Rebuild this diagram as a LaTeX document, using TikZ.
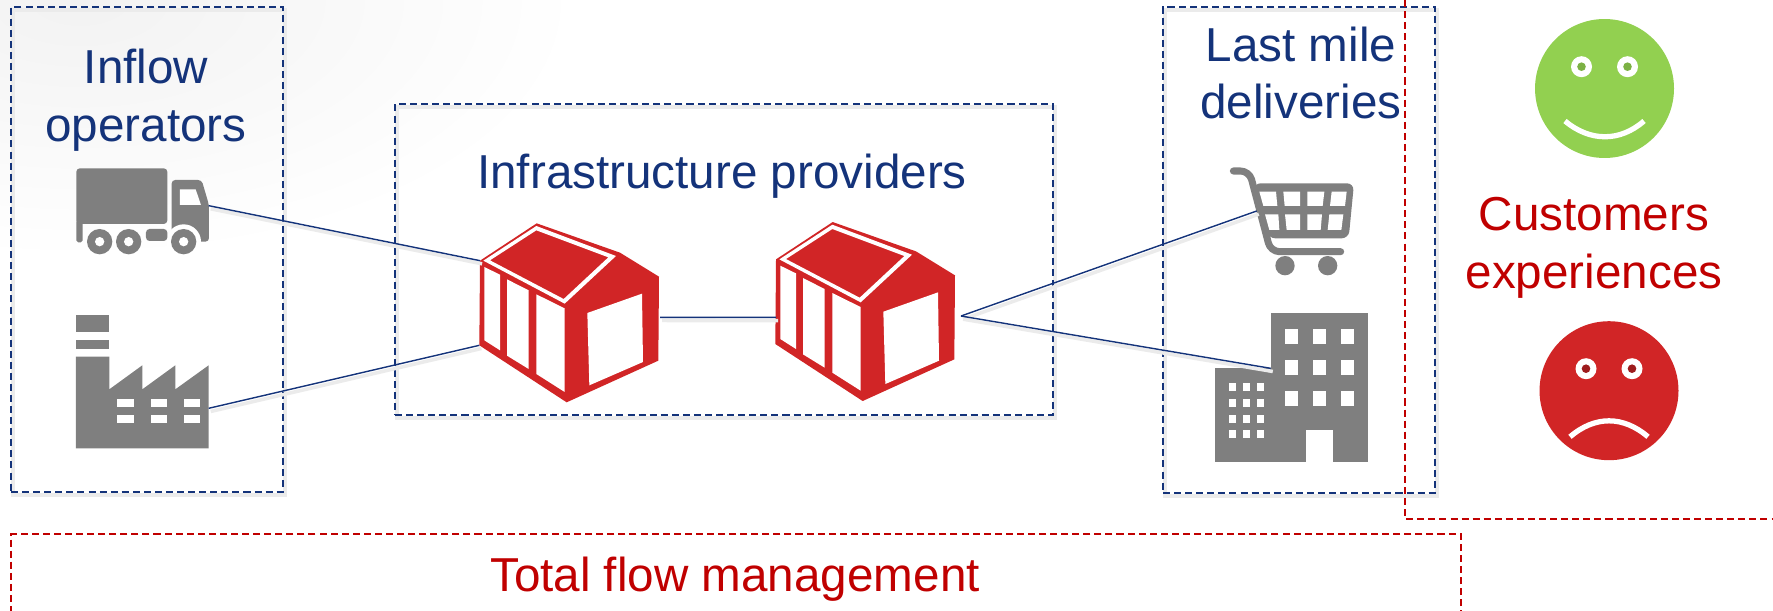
\documentclass[tikz,border=0pt]{standalone}
\usepackage{fontspec}
\setmainfont{Liberation Sans}
\definecolor{boxblue}{HTML}{14337A}
\definecolor{labelred}{HTML}{C00000}
\definecolor{iconred}{HTML}{D12526}
\definecolor{icongray}{HTML}{7F7F7F}
\definecolor{smilegreen}{HTML}{92D050}
\tikzset{
  bluebox/.style={draw=boxblue, line width=1.1pt, dash pattern=on 4pt off 2.3pt},
  redbox/.style={draw=labelred, line width=1.1pt, dash pattern=on 4pt off 2.3pt},
  softshadow/.style={draw=black!8, line width=2.6pt, transform canvas={xshift=1.2pt,yshift=-1.8pt}},
  link/.style={draw=boxblue, line width=0.8pt},
  bluelabel/.style={text=boxblue, align=center, font=\fontsize{27.1}{32.8}\selectfont},
  redlabel/.style={text=labelred, align=center, font=\fontsize{27.1}{32.8}\selectfont},
  depot/.pic={
    \begin{scope}[x=0.00667cm,y=-0.00667cm]
    \fill[iconred] (60,182) -- (230,70) -- (480,158) -- (597,230) -- (595,482) -- (320,607) -- (58,436) -- cycle;
    \fill[white, even odd rule] (70,182) -- (229,78) -- (468,168) -- (314,311) -- cycle (90,181) -- (229,91) -- (445,172) -- (311,297) -- cycle;
    \fill[white] (73,201) -- (120,224) -- (120,451) -- (73,421) -- cycle;
    \fill[white] (141,238) -- (206,271) -- (206,507) -- (141,467) -- cycle;
    \fill[white] (229,283) -- (314,325) -- (314,576) -- (229,522) -- cycle;
    \fill[white] (382,339) -- (546,281) -- (549,486) -- (388,556) -- cycle;
    \coordinate (-west) at (60,182);
    \coordinate (-south) at (58,436);
    \coordinate (-side) at (60,356);
    \coordinate (-east) at (600,352);
    \coordinate (-tip) at (615,352);
    \end{scope}
  },
}
\begin{document}
\begin{tikzpicture}[x=0.02cm,y=-0.02cm]
  \useasboundingbox (0,0) rectangle (1773,611);
  \clip (0,0) rectangle (1773,611);

  % top left tint
  \shade[inner color=black!5, outer color=white] (80,0) ellipse (500 and 260);

  % box shadows
  \draw[softshadow] (11,7) rectangle (283,492);
  \draw[softshadow] (395,104) rectangle (1053,415);
  \draw[softshadow] (1163,7) rectangle (1435,493);

  % boxes
  \node[bluebox, inner sep=0, minimum width=5.44cm, minimum height=9.7cm] (inflowbox) at (147,249.5) {};
  \node[bluebox, inner sep=0, minimum width=13.16cm, minimum height=6.22cm] (infrabox) at (724,259.5) {};
  \node[bluebox, inner sep=0, minimum width=5.44cm, minimum height=9.72cm] (lastmilebox) at (1299,250) {};
  \node[redbox, inner sep=0, minimum width=29cm, minimum height=3cm] (totalbox) at (736,609) {};
  \draw[redbox] (1405,0) -- (1405,519) -- (1773,519);

  % labels
  \node[bluelabel] (inflowlabel) at (146,100) {Inflow\\operators};
  \node[bluelabel] (infralabel) at (722,176.5) {Infrastructure providers};
  \node[bluelabel] (lastlabel) at (1301,73) {Last mile\\deliveries};
  \node[redlabel] (customerlabel) at (1594,248) {Customers\\experiences};
  \node[redlabel] (totallabel) at (735,579.5) {Total flow management};

  % truck
  \begin{scope}[x=0.00667cm,y=-0.00667cm]
    \fill[icongray, rounded corners=2pt] (229,505) rectangle (502,672);
    \fill[icongray, rounded corners=1pt] (229,660) rectangle (248,727);
    \fill[icongray, rounded corners=2pt] (515,725) -- (515,540) -- (605,540) -- (627,615) -- (627,725) -- cycle;
    \fill[white] (540,568) -- (587,568) -- (603,615) -- (540,615) -- cycle;
    \fill[white] (551,725) circle (52);
    \fill[icongray, rounded corners=2pt] (438,687) rectangle (502,723);
    \foreach \wheelx in {299,386,551} {
      \fill[icongray] (\wheelx,725) circle (38);
      \fill[white] (\wheelx,725) circle (14);
    }
    \coordinate (truck) at (626,617);

    % factory
    \fill[icongray] (228,945) rectangle (328,997);
    \fill[icongray] (228,1021) rectangle (328,1047);
    \fill[icongray] (228,1070) -- (328,1070) -- (328,1168) -- (427,1096) -- (427,1168) -- (526,1096) -- (526,1168) -- (626,1096) -- (626,1345) -- (228,1345) -- cycle;
    \foreach \winx in {352,452,551} {
      \fill[white] (\winx,1196) rectangle +(49,25);
      \fill[white] (\winx,1245) rectangle +(49,25);
    }
    \coordinate (factory) at (626,1225);
  \end{scope}

  % depots
  \pic (depotleft) at (460,200) {depot};
  \pic (depotright) at (756,198.7) {depot};

  % cart and building
  \begin{scope}[shift={(1150,150)},x=0.00667cm,y=-0.00667cm]
    \draw[icongray, line width=4pt, line cap=round, line join=round, rounded corners=5pt] (250,63) -- (298,63) -- (362,305) -- (572,305);
    \fill[icongray, rounded corners=4pt] (310,100) -- (612,100) -- (596,265) -- (355,265) -- cycle;
    \fill[white] (328,125) -- (378,125) -- (382,168) -- (340,168) -- cycle;
    \fill[white] (400,125) -- (450,125) -- (450,168) -- (404,168) -- cycle;
    \fill[white] (472,125) -- (523,125) -- (518,168) -- (472,168) -- cycle;
    \fill[white] (545,125) -- (590,125) -- (585,168) -- (540,168) -- cycle;
    \fill[white] (345,193) -- (385,193) -- (388,240) -- (358,240) -- cycle;
    \fill[white] (405,193) -- (450,193) -- (450,240) -- (410,240) -- cycle;
    \fill[white] (472,193) -- (516,193) -- (512,240) -- (472,240) -- cycle;
    \fill[white] (538,193) -- (580,193) -- (574,240) -- (533,240) -- cycle;
    \fill[icongray] (405,347) circle (29);
    \fill[icongray] (533,347) circle (29);
    \coordinate (cart) at (320,183);

    \fill[icongray] (362,490) rectangle (655,935);
    \fill[icongray] (195,655) rectangle (362,935);
    \fill[white] (467,840) rectangle (550,935);
    \foreach \winx in {405,488,573} {
      \foreach \winy in {538,630,724} {
        \fill[white] (\winx,\winy) rectangle +(40,45);
      }
    }
    \foreach \winx in {238,279,321} {
      \foreach \winy in {700,748,794,840} {
        \fill[white] (\winx,\winy) rectangle +(20,24);
      }
    }
    \coordinate (building) at (362,655);
  \end{scope}

  % links
  \foreach \linkfrom/\linkto in {truck/depotleft-west, factory/depotleft-south, depotleft-east/depotright-side, depotright-tip/cart, depotright-tip/building} {
    \draw[softshadow, line width=2pt] (\linkfrom) -- (\linkto);
    \draw[link] (\linkfrom) -- (\linkto);
  }

  % faces
  \node[circle, fill=smilegreen, inner sep=0, minimum size=2.78cm] (happyface) at (1604.5,88.5) {};
  \node[circle, fill=iconred, inner sep=0, minimum size=2.78cm] (sadface) at (1609,390.7) {};
  \foreach \eyex/\eyey/\pupil in {1581.5/66.7/smilegreen!85!black, 1627.5/66.7/smilegreen!85!black, 1586/368.7/iconred!75!black, 1632/368.7/iconred!75!black} {
    \fill[white] (\eyex,\eyey) circle (10.5);
    \fill[\pupil] (\eyex,\eyey) circle (4.3);
  }
  \draw[white, line width=3pt] (1565,121) .. controls (1590,142) and (1620,142) .. (1644,121);
  \draw[white, line width=3pt] (1570,436.8) .. controls (1595,415.5) and (1623,415.5) .. (1648,436.8);
\end{tikzpicture}
\end{document}
